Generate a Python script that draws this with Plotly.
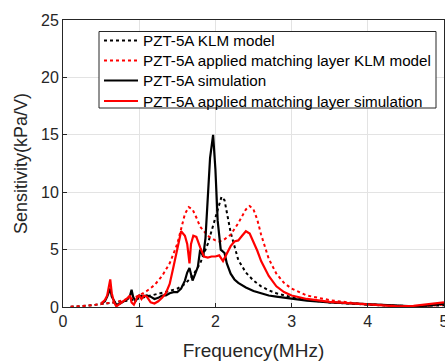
import plotly.graph_objects as go

# PZT-5A KLM model (black dotted)
f_klm = [0.1,0.3,0.5,0.7,0.9,1.0,1.1,1.2,1.3,1.4,1.5,1.6,1.7,1.8,1.9,1.95,2.0,2.05,2.08,2.12,2.2,2.3,2.4,2.5,2.6,2.7,2.8,3.0,3.2,3.5,3.8,4.0,4.3,4.6,5.0]
v_klm = [0.02,0.1,0.25,0.4,0.6,0.75,0.9,1.05,1.2,1.4,1.6,2.0,2.7,3.8,5.5,6.6,7.8,9.0,9.6,9.3,6.5,4.1,3.0,2.3,1.8,1.45,1.2,0.85,0.6,0.4,0.25,0.2,0.12,0.08,0.15]

# PZT-5A applied matching layer KLM model (red dotted)
f_mklm = [0.1,0.3,0.5,0.7,0.9,1.0,1.1,1.2,1.3,1.4,1.5,1.55,1.6,1.65,1.7,1.75,1.8,1.9,2.0,2.05,2.1,2.2,2.3,2.4,2.45,2.5,2.55,2.6,2.7,2.8,2.9,3.0,3.2,3.5,3.8,4.0,4.3,4.6,4.8,5.0]
v_mklm = [0.02,0.1,0.25,0.45,0.75,1.0,1.4,1.9,2.7,3.8,5.5,6.9,8.1,8.7,8.5,7.8,7.0,6.2,5.8,5.7,5.8,6.3,7.3,8.5,8.8,8.5,7.6,6.3,4.2,2.9,2.1,1.6,1.0,0.6,0.35,0.25,0.12,0.05,0.1,0.2]

# PZT-5A simulation (black solid)
f_sim = [0.5,0.55,0.58,0.6,0.62,0.64,0.67,0.7,0.75,0.8,0.85,0.88,0.9,0.92,0.95,1.0,1.05,1.1,1.15,1.2,1.25,1.3,1.35,1.4,1.45,1.5,1.55,1.6,1.63,1.66,1.7,1.73,1.77,1.8,1.84,1.87,1.9,1.93,1.97,2.0,2.03,2.07,2.12,2.15,2.2,2.25,2.3,2.4,2.5,2.6,2.7,2.8,3.0,3.2,3.5,3.8,4.0,4.3,4.6,4.8,5.0]
v_sim = [0.3,0.5,0.9,1.3,1.6,0.9,0.5,0.2,0.3,0.5,0.7,1.0,1.5,0.9,0.5,1.0,0.9,1.0,0.9,0.7,0.8,1.0,1.0,1.2,1.3,1.3,1.6,2.3,3.0,3.4,2.3,2.8,3.5,5.0,4.4,6.0,9.5,13.0,15.0,12.0,7.5,5.0,4.7,3.8,2.9,2.4,2.1,1.7,1.4,1.2,1.0,0.9,0.7,0.55,0.4,0.3,0.2,0.1,0.05,0.15,0.3]

# PZT-5A applied matching layer simulation (red solid)
f_msim = [0.5,0.55,0.58,0.6,0.62,0.64,0.67,0.7,0.75,0.8,0.85,0.88,0.9,0.93,0.97,1.0,1.03,1.06,1.1,1.15,1.2,1.25,1.3,1.35,1.4,1.45,1.5,1.55,1.6,1.63,1.66,1.68,1.71,1.75,1.8,1.85,1.9,1.95,2.0,2.05,2.1,2.15,2.2,2.25,2.3,2.35,2.4,2.45,2.5,2.55,2.6,2.65,2.7,2.8,2.9,3.0,3.2,3.5,3.8,4.0,4.2,4.4,4.6,4.8,5.0]
v_msim = [0.3,0.6,1.0,1.8,2.4,1.2,0.4,0.05,0.3,0.5,0.8,1.0,0.4,0.2,0.8,1.0,0.7,1.0,0.9,0.4,0.3,0.5,0.8,1.2,2.0,3.5,5.0,6.6,6.2,5.5,3.8,5.5,6.2,6.1,5.2,4.4,4.3,4.4,4.4,4.5,4.0,4.6,5.3,5.7,5.8,6.2,6.6,6.4,5.7,4.9,4.0,3.3,2.7,1.8,1.3,1.0,0.7,0.45,0.3,0.2,0.12,0.05,0.1,0.25,0.4]

names = ["PZT-5A KLM model", "PZT-5A applied matching layer KLM model",
         "PZT-5A simulation", "PZT-5A applied matching layer simulation"]
colors = ["black", "red", "black", "red"]
dashes = ["dot", "dot", "solid", "solid"]
widths = [2, 2, 2.2, 2.2]
xs = [f_klm, f_mklm, f_sim, f_msim]
ys = [v_klm, v_mklm, v_sim, v_msim]

# figure layout (pixels)
W, H = 445, 362
ML, MR, MT, MB = 63, 1, 20, 55
PW, PH = W - ML - MR, H - MT - MB

def px_x(px):
    return (px - ML) / PW

def px_y(py):
    return (H - MB - py) / PH

fig = go.Figure()
for x, y, n, c, d, w in zip(xs, ys, names, colors, dashes, widths):
    fig.add_trace(go.Scatter(x=x, y=y, mode="lines", name=n, showlegend=False,
                             line=dict(color=c, width=w, dash=d)))

# manual legend (box, sample lines, real text labels)
shapes = [dict(type="rect", xref="paper", yref="paper",
               x0=px_x(99), x1=px_x(436), y0=px_y(108), y1=px_y(31.5),
               line=dict(color="#262626", width=1), fillcolor="white", layer="above")]
annotations = []
row_y = [40.5, 60.5, 80.5, 101]
for ry, n, c, d, w in zip(row_y, names, colors, dashes, widths):
    shapes.append(dict(type="line", xref="paper", yref="paper",
                       x0=px_x(104), x1=px_x(138), y0=px_y(ry), y1=px_y(ry),
                       line=dict(color=c, width=w, dash=d), layer="above"))
    annotations.append(dict(text=n, xref="paper", yref="paper", x=px_x(141), y=px_y(ry),
                            xanchor="left", yanchor="middle", showarrow=False,
                            font=dict(family="Liberation Sans, Arial", size=15.2, color="black")))

axis_common = dict(showline=True, linecolor="#262626", linewidth=1, mirror=True,
                   ticks="inside", ticklen=4, tickcolor="#262626",
                   showgrid=True, gridcolor="#e3e3e3", gridwidth=1, zeroline=False,
                   tickfont=dict(family="Liberation Sans, Arial", size=16, color="#262626"),
                   ticklabeloverflow="allow",
                   automargin=False)

fig.update_layout(
    width=W, height=H,
    margin=dict(l=ML, r=MR, t=MT, b=MB),
    paper_bgcolor="white", plot_bgcolor="white",
    font=dict(family="Liberation Sans, Arial", color="#262626"),
    xaxis=dict(range=[0, 5], dtick=1,
               title=dict(text="Frequency(MHz)", font=dict(size=19, color="#262626"), standoff=14),
               **axis_common),
    yaxis=dict(range=[0, 25], dtick=5,
               title=dict(text="Sensitivity(kPa/V)", font=dict(size=18, color="#262626"), standoff=8),
               **axis_common),
    shapes=shapes,
    annotations=annotations,
    showlegend=False,
)

fig.write_html("out.html")
